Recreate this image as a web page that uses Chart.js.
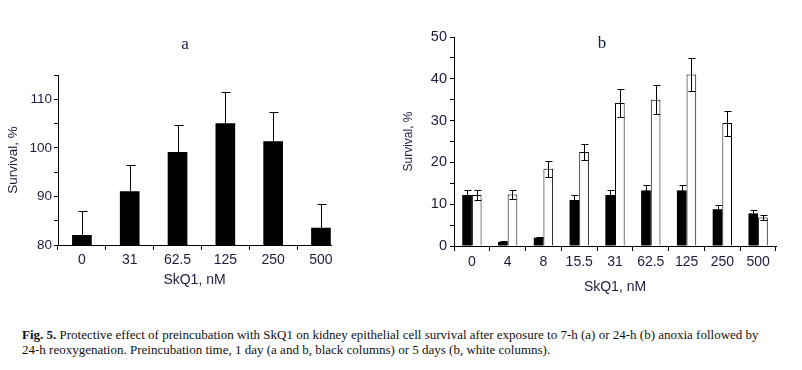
<!DOCTYPE html>
<html><head><meta charset="utf-8">
<script src="https://cdn.jsdelivr.net/npm/chart.js@4.4.1/dist/chart.umd.min.js"></script>
<style>
html,body{margin:0;padding:0;background:#fff;width:802px;height:370px;overflow:hidden;position:relative}
canvas{position:absolute;top:0}
#ca{left:0}
#cb{left:400px}
.ttl{position:absolute;font-family:"Liberation Serif",serif;font-size:17px;color:#1a1a4a;transform:translate(-50%,-50%);line-height:1}
#cap{position:absolute;left:22px;top:328px;font-family:"Liberation Serif",serif;font-size:13px;line-height:14.5px;color:#111;white-space:nowrap}
</style></head><body>
<canvas id="ca" width="400" height="310"></canvas>
<canvas id="cb" width="402" height="310"></canvas>
<div class="ttl" style="left:185px;top:43px">a</div>
<div class="ttl" style="left:602px;top:42px">b</div>
<div id="cap"><b>Fig. 5.</b> Protective effect of preincubation with SkQ1 on kidney epithelial cell survival after exposure to 7-h (a) or 24-h (b) anoxia followed by<br>24-h reoxygenation. Preincubation time, 1 day (a and b, black columns) or 5 days (b, white columns).</div>
<script>
// ---- data: panel a ----
const categoriesA = ['0', '31', '62.5', '125', '250', '500'];
const survivalA = [82.0, 91.0, 99.1, 105.0, 101.3, 83.5];
const errorA = [5.0, 5.4, 5.6, 6.4, 6.0, 5.0];
const yTicksA = [80, 90, 100, 110];

// ---- data: panel b ----
const categoriesB = ['0', '4', '8', '15.5', '31', '62.5', '125', '250', '500'];
const survivalB1day = [12.2, 1.0, 2.0, 11.0, 12.2, 13.3, 13.3, 8.8, 7.8];
const errorB1day = [1.2, 0.2, 0.2, 1.1, 1.2, 1.3, 1.3, 0.9, 0.7];
const survivalB5day = [12.2, 12.3, 18.5, 22.5, 34.2, 35.0, 41.0, 29.4, 6.8];
const errorB5day = [1.2, 1.1, 1.9, 2.0, 3.4, 3.4, 4.0, 3.0, 0.6];
const yTicksB = [0, 10, 20, 30, 40, 50];

const axisTitle = 'SkQ1, nM';
const valueTitle = 'Survival, %';

const TXT = '#1c1c3c';
const SANS = '"Liberation Sans", Arial, sans-serif';

const errorBars = {
  id: 'errorBars',
  afterDatasetsDraw(chart) {
    const ctx = chart.ctx, ys = chart.scales.y;
    chart.data.datasets.forEach((ds, di) => {
      if (!ds.errors) return;
      const meta = chart.getDatasetMeta(di);
      ctx.save();
      ctx.strokeStyle = '#000';
      ctx.lineWidth = 1;
      meta.data.forEach((el, i) => {
        const v = meta.controller.getParsed(i).y;
        const e = ds.errors[i];
        const x = Math.round(el.x) + 0.5;
        const top = Math.round(ys.getPixelForValue(v + e)) + 0.5;
        const bot = ds.errorMode === 'up' ? el.y : Math.round(ys.getPixelForValue(v - e)) + 0.5;
        const h = ds.capHalf;
        ctx.beginPath();
        ctx.moveTo(x, top); ctx.lineTo(x, bot);
        ctx.moveTo(x - h, top); ctx.lineTo(x + h + 1, top);
        if (ds.errorMode !== 'up') { ctx.moveTo(x - h, bot); ctx.lineTo(x + h + 1, bot); }
        ctx.stroke();
      });
      ctx.restore();
    });
  }
};

Chart.defaults.font.family = SANS;
Chart.defaults.color = TXT;

// ---- panel a ----
new Chart(document.getElementById('ca'), {
  type: 'bar',
  data: {
    datasets: [{
      data: survivalA.map((v, i) => ({ x: i, y: v })),
      backgroundColor: '#000',
      borderWidth: 0,
      barThickness: 19,
      errors: errorA, errorMode: 'up', capHalf: 4
    }]
  },
  options: {
    responsive: false, animation: false, devicePixelRatio: 1,
    layout: { padding: { top: 75, right: 69, left: 0, bottom: 0 } },
    plugins: { legend: { display: false }, tooltip: { enabled: false } },
    scales: {
      x: {
        type: 'linear', min: -0.5, max: 5.21, offset: false,
        afterBuildTicks: s => { s.ticks = categoriesA.map((c, i) => ({ value: i })); },
        afterFit: s => { s.height = 65; },
        grid: { display: true, drawOnChartArea: false, drawTicks: true, tickLength: 5, offset: true, color: '#000' },
        border: { display: true, color: '#000', width: 1 },
        ticks: { autoSkip: false, maxRotation: 0, padding: 2, font: { size: 14 }, color: TXT,
                 callback: (v, i) => categoriesA[i] },
        title: { display: true, text: axisTitle, font: { size: 14 }, color: TXT, padding: { top: 0, bottom: 21 } }
      },
      y: {
        min: 80, max: 115,
        afterBuildTicks: s => { const t = []; for (let v = 80; v <= 115; v += 5) t.push({ value: v }); s.ticks = t; },
        afterFit: s => { s.width = 58; },
        grid: { display: true, drawOnChartArea: false, drawTicks: true, tickLength: 4, color: '#000' },
        border: { display: true, color: '#000', width: 1 },
        ticks: { padding: 2, font: { size: 13.5 }, color: TXT,
                 callback: v => yTicksA.includes(v) ? String(v) : '' },
        title: { display: true, text: valueTitle, font: { size: 13.5 }, color: TXT, padding: { top: 5, bottom: 0 } }
      }
    }
  },
  plugins: [errorBars]
});

// ---- panel b ----
new Chart(document.getElementById('cb'), {
  type: 'bar',
  data: {
    labels: categoriesB,
    datasets: [{
      data: survivalB1day,
      backgroundColor: '#000', borderColor: '#000', borderWidth: 0,
      categoryPercentage: 0.54, barPercentage: 1,
      errors: errorB1day, errorMode: 'both', capHalf: 3
    }, {
      data: survivalB5day,
      backgroundColor: '#fff', borderColor: '#000', borderWidth: 1,
      categoryPercentage: 0.54, barPercentage: 1,
      errors: errorB5day, errorMode: 'both', capHalf: 3
    }]
  },
  options: {
    responsive: false, animation: false, devicePixelRatio: 1,
    layout: { padding: { top: 37, right: 26, left: 0, bottom: 0 } },
    plugins: { legend: { display: false }, tooltip: { enabled: false } },
    scales: {
      x: {
        type: 'category', offset: true,
        afterFit: s => { s.height = 64; },
        grid: { display: true, drawOnChartArea: false, drawTicks: true, tickLength: 5, offset: true, color: '#000' },
        border: { display: true, color: '#000', width: 1 },
        ticks: { autoSkip: false, maxRotation: 0, padding: 3, font: { size: 14 }, color: TXT },
        title: { display: true, text: axisTitle, font: { size: 14 }, color: TXT, padding: { top: 0, bottom: 14 } }
      },
      y: {
        min: 0, max: 50,
        afterBuildTicks: s => { const t = []; for (let v = 0; v <= 50; v += 5) t.push({ value: v }); s.ticks = t; },
        afterFit: s => { s.width = 54; },
        grid: { display: true, drawOnChartArea: false, drawTicks: true, tickLength: 4, color: '#000' },
        border: { display: true, color: '#000', width: 1 },
        ticks: { padding: 3, font: { size: 14.5 }, color: TXT,
                 callback: v => yTicksB.includes(v) ? String(v) : '' },
        title: { display: true, text: valueTitle, font: { size: 12 }, color: TXT, padding: { top: 1, bottom: 0 } }
      }
    }
  },
  plugins: [errorBars]
});
</script>
</body></html>
